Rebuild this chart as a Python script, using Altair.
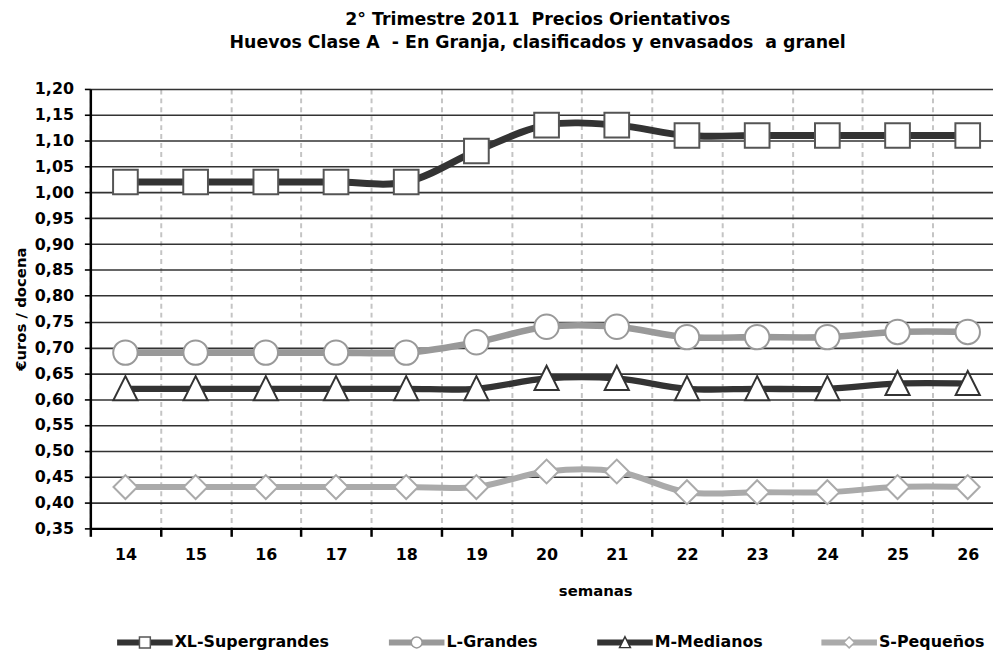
import altair as alt
import pandas as pd

# ---- data ----
weeks = [14, 15, 16, 17, 18, 19, 20, 21, 22, 23, 24, 25, 26]
series = ["XL-Supergrandes", "L-Grandes", "M-Medianos", "S-Pequeños"]
xl_vals = [1.02, 1.02, 1.02, 1.02, 1.02, 1.08, 1.13, 1.13, 1.11, 1.11, 1.11, 1.11, 1.11]
l_vals = [0.69, 0.69, 0.69, 0.69, 0.69, 0.71, 0.74, 0.74, 0.72, 0.72, 0.72, 0.73, 0.73]
m_vals = [0.62, 0.62, 0.62, 0.62, 0.62, 0.62, 0.64, 0.64, 0.62, 0.62, 0.62, 0.63, 0.63]
s_vals = [0.43, 0.43, 0.43, 0.43, 0.43, 0.43, 0.46, 0.46, 0.42, 0.42, 0.42, 0.43, 0.43]
y_ticks = [0.35, 0.40, 0.45, 0.50, 0.55, 0.60, 0.65, 0.70, 0.75, 0.80, 0.85, 0.90,
           0.95, 1.00, 1.05, 1.10, 1.15, 1.20]
title_lines = ["2° Trimestre 2011\u00a0\u00a0Precios Orientativos",
               "Huevos Clase A\u00a0 - En Granja, clasificados y envasados\u00a0\u00a0a granel"]

# ---- styles / layout ----
line_colors = ["#333333", "#999999", "#333333", "#aaaaaa"]
line_widths = [7, 6, 7, 5]
marker_strokes = ["#555555", "#999999", "#333333", "#aaaaaa"]
marker_shapes = ["square", "circle", "M0,-1.05L1,0.95L-1,0.95Z", "diamond"]
marker_sizes = [620, 580, 640, 720]
legend_slots_px = [27, 301, 511, 737]
FONT = "DejaVu Sans"
W, H = 910, 443

rows = []
for name, vals in zip(series, [xl_vals, l_vals, m_vals, s_vals]):
    for w, v in zip(weeks, vals):
        rows.append({"week": w, "price": v, "series": name})
df = pd.DataFrame(rows)

# category separators (band boundaries) for ticks/grid
bounds = [weeks[0] - 0.5] + [w + 0.5 for w in weeks[:-1]]
x_axis_values = sorted(bounds + weeks)

x_enc = alt.X(
    "week:Q",
    scale=alt.Scale(domain=[13.5, 26.36], nice=False, zero=False),
    axis=alt.Axis(
        values=x_axis_values, tickCount=200,
        labelExpr="datum.value % 1 === 0 ? datum.value : ''",
        labelOverlap=False,
        tickOpacity={"condition": {"test": "datum.value % 1 === 0", "value": 0}, "value": 1},
        gridOpacity={"condition": {"test": "datum.value % 1 === 0", "value": 0}, "value": 1},
        grid=True, gridColor="#c4c4c4", gridWidth=2, gridDash=[5, 4],
        domainColor="#000000", domainWidth=2.5,
        tickColor="#000000", tickWidth=2.5, tickSize=8,
        labelFont=FONT, labelFontSize=16, labelFontWeight="bold", labelColor="#000000",
        labelPadding=10, labelAngle=0,
        title="semanas", titleFont=FONT, titleFontSize=15, titleFontWeight="bold",
        titleColor="#000000", titleX=509, titleY=63, titleBaseline="middle",
    ),
)
y_enc = alt.Y(
    "price:Q",
    scale=alt.Scale(domain=[0.35, 1.20], nice=False, zero=False),
    axis=alt.Axis(
        values=y_ticks, tickCount=200,
        labelExpr="replace(format(datum.value, '.2f'), '.', ',')",
        labelOverlap=False,
        grid=True, gridColor="#333333", gridWidth=1.6,
        domainColor="#000000", domainWidth=2.5,
        tickColor="#000000", tickWidth=1.6, tickSize=6,
        labelFont=FONT, labelFontSize=16, labelFontWeight="bold", labelColor="#000000",
        labelPadding=11,
        title="€uros / docena", titleFont=FONT, titleFontSize=15, titleFontWeight="bold",
        titleColor="#000000", titlePadding=6,
    ),
)

color_enc = alt.Color("series:N", scale=alt.Scale(domain=series, range=line_colors), legend=None)
stroke_enc = alt.Stroke("series:N", scale=alt.Scale(domain=series, range=marker_strokes), legend=None)
shape_enc = alt.Shape("series:N", scale=alt.Scale(domain=series, range=marker_shapes), legend=None)

lines = alt.Chart(df).mark_line(interpolate="catmull-rom", strokeCap="butt").encode(
    x=x_enc, y=y_enc, color=color_enc,
    strokeWidth=alt.StrokeWidth("series:N", scale=alt.Scale(domain=series, range=line_widths), legend=None),
    detail="series:N",
)
points = alt.Chart(df).mark_point(filled=True, fill="white", opacity=1, strokeWidth=2).encode(
    x="week:Q", y="price:Q", stroke=stroke_enc, shape=shape_enc,
    size=alt.Size("series:N", scale=alt.Scale(domain=series, range=marker_sizes), legend=None),
)
main = alt.layer(lines, points)

# ---- legend (bottom) ----
leg = pd.DataFrame({"series": series, "slot": list(range(len(series)))})
lx = alt.X("slot:Q", scale=alt.Scale(domain=list(range(len(series))), range=legend_slots_px), axis=None)
LEG_Y = 558
leg_line = alt.Chart(leg).mark_rule(strokeWidth=6, x2Offset=56).encode(
    x=lx, x2="slot:Q", y=alt.value(LEG_Y), color=color_enc,
)
leg_pt = alt.Chart(leg).mark_point(filled=True, fill="white", opacity=1, strokeWidth=1.5, xOffset=28).encode(
    x=lx, y=alt.value(LEG_Y), stroke=stroke_enc, shape=shape_enc, size=alt.value(120),
)
leg_txt = alt.Chart(leg).mark_text(align="left", baseline="middle", dx=58, font=FONT,
                                   fontSize=16, fontWeight="bold", color="#000000").encode(
    x=lx, y=alt.value(LEG_Y), text="series:N",
)
legend = alt.layer(leg_line, leg_pt, leg_txt)

chart = alt.layer(main, legend).resolve_scale(x="independent").properties(
    width=W, height=H,
    title=alt.TitleParams(text=title_lines, anchor="middle", frame="group", dx=-4,
                          offset=30, font=FONT, fontSize=17.5, fontWeight="bold",
                          color="#000000", lineHeight=23),
    autosize=alt.AutoSizeParams(type="none"),
    padding={"left": 83, "top": 79, "right": 0, "bottom": 122},
).configure_view(stroke=None).configure(background="white")

chart.save("out.html", embed_options={"renderer": "svg", "actions": False})
